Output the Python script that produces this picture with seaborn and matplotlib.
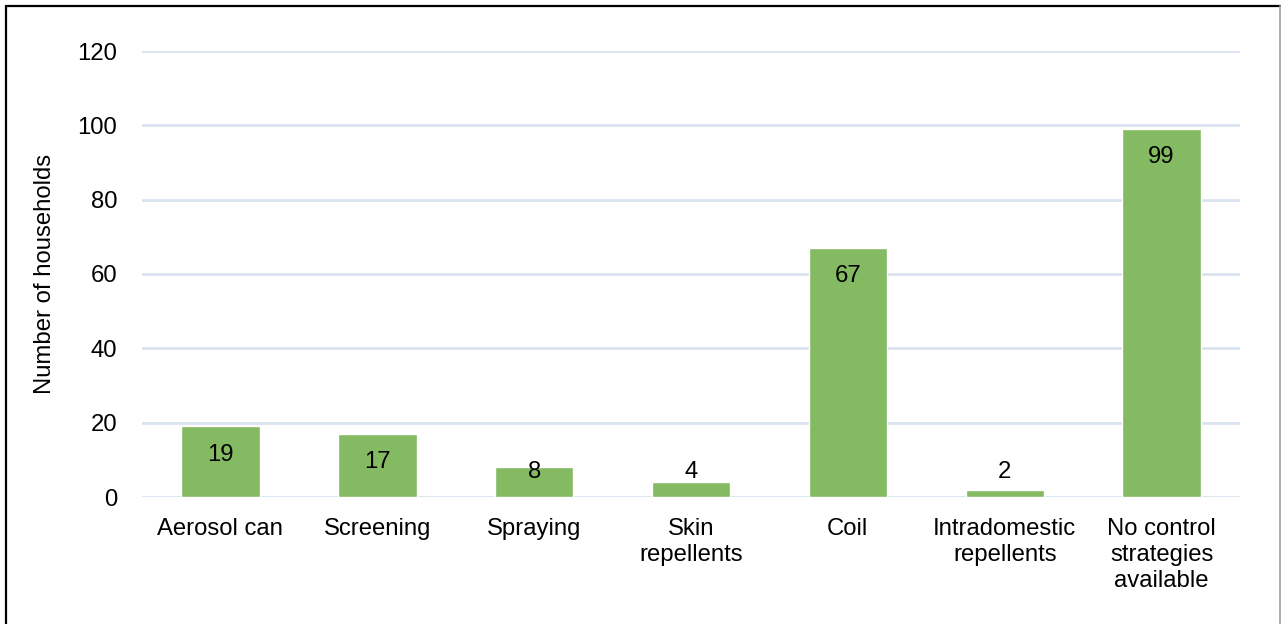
import matplotlib
matplotlib.use("Agg")
import matplotlib.pyplot as plt
import seaborn as sns
import pandas as pd
from matplotlib.lines import Line2D

categories = ["Aerosol can", "Screening", "Spraying", "Skin\nrepellents", "Coil",
              "Intradomestic\nrepellents", "No control\nstrategies\navailable"]
values = [19, 17, 8, 4, 67, 2, 99]
yticks = [0, 20, 40, 60, 80, 100, 120]

sns.set_theme(style="white")
plt.rcParams["font.family"] = ["Liberation Sans", "DejaVu Sans"]

df = pd.DataFrame({"category": categories, "value": values})

W, H = 1282, 624
FS = 17.2
fig = plt.figure(figsize=(W / 100, H / 100), dpi=100)
ax = fig.add_axes([142 / W, 1 - 497 / H, (1240 - 142) / W, (497 - 51) / H])

sns.barplot(data=df, x="category", y="value", color="#84BA62", width=0.5,
            saturation=1, ax=ax, zorder=3)

ax.set_ylim(0, 120)
ax.set_xlim(-0.5, len(categories) - 0.5)
ax.set_yticks(yticks)
ax.set_yticklabels([str(t) for t in yticks])
for y in yticks:
    ax.axhline(y, color="#D9E3F0", lw=2, zorder=1)
for s in ax.spines.values():
    s.set_visible(False)
ax.tick_params(axis="y", length=0, pad=18, labelsize=FS, colors="#000000")
ax.tick_params(axis="x", length=0, pad=15, labelsize=FS, colors="#000000")
for lbl in ax.get_xticklabels():
    lbl.set_linespacing(1.25)
ax.set_xlabel("")
ax.set_ylabel("Number of households", fontsize=FS, color="#000000", labelpad=15)

for i, v in enumerate(values):
    ypos = max(v - 7.6, 6.8)
    ax.text(i, ypos, str(v), ha="center", va="center", fontsize=FS,
            color="#000000", zorder=4)

# outer frame
fig.add_artist(Line2D([6 / W, 6 / W], [0, 1 - 6 / H], transform=fig.transFigure,
                      color="#000000", lw=1.6))
fig.add_artist(Line2D([6 / W, 1280 / W], [1 - 6 / H, 1 - 6 / H], transform=fig.transFigure,
                      color="#000000", lw=1.6))
fig.add_artist(Line2D([1280 / W, 1280 / W], [0, 1 - 6 / H], transform=fig.transFigure,
                      color="#A0A0A0", lw=1.2))

fig.savefig("out.png", dpi=100, facecolor="white")
